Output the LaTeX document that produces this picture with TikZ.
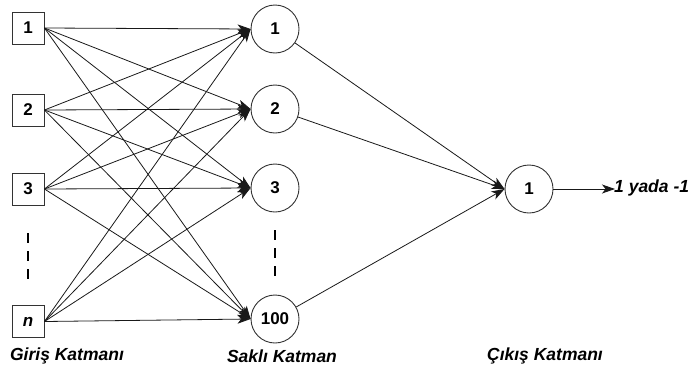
\documentclass[tikz,border=0pt]{standalone}
\usepackage{fontspec}
\setmainfont{Liberation Sans}
\usetikzlibrary{arrows.meta}
\begin{document}
\begin{tikzpicture}[x=1pt,y=-1pt,
  every node/.style={font=\fontsize{17}{20}\selectfont\bfseries},
  inbox/.style={draw=black!80, line width=0.9pt, minimum width=32pt, minimum height=32pt, inner sep=0pt},
  neuron/.style={draw=black!80, line width=0.9pt, circle, minimum size=48pt, inner sep=0pt},
  link/.style={draw=black!90, line width=0.8pt, -{Stealth[length=13pt,width=9pt,inset=3.5pt]}},
  ellip/.style={draw=black, line width=2.6pt, dash pattern=on 10pt off 8pt},
  caption/.style={font=\fontsize{17.5}{20}\selectfont\bfseries\itshape}]
\useasboundingbox (0,0) rectangle (692,370);

% input layer
\node[inbox] (i1) at (28,28) {1};
\node[inbox] (i2) at (28,110) {2};
\node[inbox] (i3) at (28,189) {3};
\node[inbox] (in) at (28,321.5) {\itshape n};

% hidden layer
\node[neuron] (h1) at (275,29) {1};
\node[neuron] (h2) at (275,109) {2};
\node[neuron] (h3) at (275,188) {3};
\node[neuron] (h4) at (275,319) {100};

% output layer
\node[neuron] (o1) at (529,189) {1};
\coordinate (res) at (615,189);
\node[anchor=west, inner sep=0pt, font=\fontsize{17.5}{20}\selectfont\bfseries\itshape] (lab) at (614,188) {1 yada -1};

% omitted units
\coordinate (d1a) at (28,233);
\coordinate (d1b) at (28,283);
\coordinate (d2a) at (275,230);
\coordinate (d2b) at (275,280);
\draw[ellip] (d1a) -- (d1b);
\draw[ellip] (d2a) -- (d2b);

% full connections input -> hidden
\foreach \s in {i1,i2,i3,in}
  \foreach \t in {h1,h2,h3,h4}
    \draw[link] (\s.east) -- (\t.west);

% hidden -> output
\foreach \t in {h1,h2,h4}
  \draw[link] (\t) -- (o1.west);
\draw[link] (o1.east) -- (res);

% layer captions
\node[caption] (c1) at (67,356) {Giriş Katmanı};
\node[caption] (c2) at (282,356) {Saklı Katman};
\node[caption] (c3) at (545,356) {Çıkış Katmanı};
\end{tikzpicture}
\end{document}
